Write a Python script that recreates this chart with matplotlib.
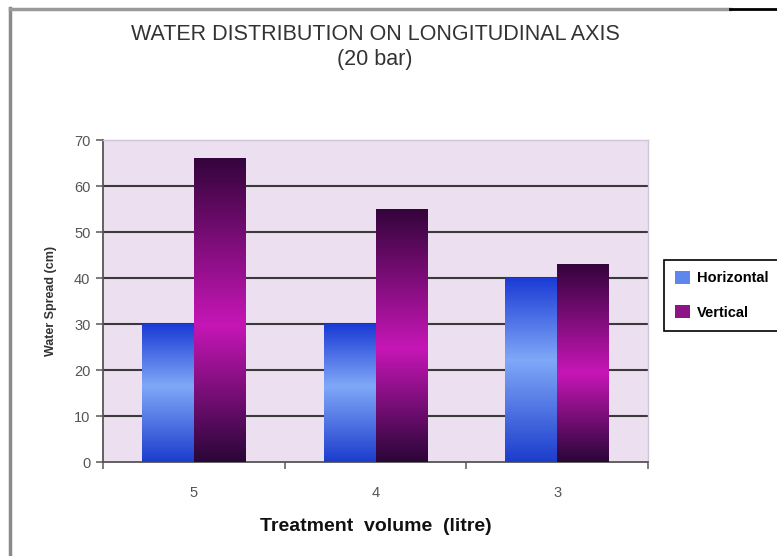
import numpy as np
import matplotlib
matplotlib.use('Agg')
import matplotlib.pyplot as plt
from matplotlib.colors import LinearSegmentedColormap
from matplotlib.lines import Line2D
from matplotlib.patches import Patch

# data
categories = ['5', '4', '3']
horizontal = [30, 30, 40]
vertical = [66, 55, 43]
series_names = ['Horizontal', 'Vertical']

W, H = 777, 556
plt.rcParams['font.family'] = ['Liberation Sans', 'DejaVu Sans']

blue_cmap = LinearSegmentedColormap.from_list(
    'blue', [(0.0, '#1c3ccc'), (0.55, '#80a8f8'), (1.0, '#1a3ad4')])
purple_cmap = LinearSegmentedColormap.from_list(
    'purple', [(0.0, '#2a0638'), (0.45, '#c616b6'), (1.0, '#34043c')])


def gradient_bars(ax, x, heights, width, cmap):
    bars = ax.bar(x, heights, width, color='none', edgecolor='none', zorder=3)
    grad = np.linspace(1, 0, 256).reshape(-1, 1)
    for bar in bars:
        x0, y0 = bar.get_x(), bar.get_y()
        im = ax.imshow(grad, cmap=cmap, aspect='auto', zorder=3,
                       extent=[x0, x0 + bar.get_width(), y0, y0 + bar.get_height()])
        im.set_clip_path(bar)
    return bars


fig = plt.figure(figsize=(W / 100, H / 100), dpi=100)
ax = fig.add_axes([103 / W, 1 - 462 / H, (648 - 103) / W, (462 - 140) / H])
ax.set_facecolor('#ebdff0')

x = np.arange(len(categories))
width = 0.285
gradient_bars(ax, x - width / 2, horizontal, width, blue_cmap)
gradient_bars(ax, x + width / 2, vertical, width, purple_cmap)

ax.set_xlim(-0.5, len(categories) - 0.5)
ax.set_ylim(0, 70)
ax.set_yticks(range(0, 71, 10))
for y in range(10, 70, 10):
    ax.axhline(y, color='#3a3a3a', lw=1.5, zorder=1)

ax.set_xticks(np.arange(-0.5, len(categories), 1.0))
ax.set_xticklabels([])
ax.set_xticks(x, minor=True)
ax.set_xticklabels(categories, minor=True)
ax.tick_params(axis='x', which='major', length=5, color='#666666', width=1.2)
ax.tick_params(axis='x', which='minor', length=0, pad=17, labelsize=10.5,
               labelcolor='#555555')
ax.tick_params(axis='y', length=5, color='#666666', width=1.2, pad=4,
               labelsize=10.5, labelcolor='#555555')

for side in ['left', 'bottom']:
    ax.spines[side].set_color('#555555')
    ax.spines[side].set_linewidth(1.3)
for side in ['top', 'right']:
    ax.spines[side].set_color('#cfc6d6')
    ax.spines[side].set_linewidth(1.0)

ax.set_xlabel('Treatment  volume  (litre)', fontsize=14, fontweight='bold',
              color='#111111', labelpad=13)
ax.set_ylabel('Water Spread (cm)', fontsize=9, fontweight='bold',
              color='#333333', labelpad=12)

fig.text(375 / W, 1 - 34 / H, 'WATER DISTRIBUTION ON LONGITUDINAL AXIS',
         ha='center', va='center', fontsize=15.5, color='#333333')
fig.text(375 / W, 1 - 59 / H, '(20 bar)', ha='center', va='center',
         fontsize=15.5, color='#333333')

handles = [Patch(facecolor='#5f86ec', edgecolor='none'),
           Patch(facecolor='#8c1488', edgecolor='none')]
leg = fig.legend(handles, series_names, loc='upper left',
                 bbox_to_anchor=(664 / W, 1 - 260 / H), frameon=True,
                 fancybox=False, edgecolor='black', framealpha=1,
                 prop={'weight': 'bold', 'size': 10.5},
                 handlelength=1.0, handleheight=1.0, handletextpad=0.5,
                 labelspacing=1.35, borderpad=0.75, borderaxespad=0)
leg.get_frame().set_linewidth(1.2)

# outer frame of the scanned chart
fig.add_artist(Line2D([10 / W, 10 / W], [0, 1 - 8 / H], transform=fig.transFigure,
                      color='#8a8a8a', lw=2.5))
fig.add_artist(Line2D([10 / W, 730 / W], [1 - 9 / H, 1 - 9 / H],
                      transform=fig.transFigure, color='#9a9a9a', lw=2.5))
fig.add_artist(Line2D([730 / W, 1], [1 - 9 / H, 1 - 9 / H],
                      transform=fig.transFigure, color='black', lw=2))

fig.savefig('out.png', dpi=100)
